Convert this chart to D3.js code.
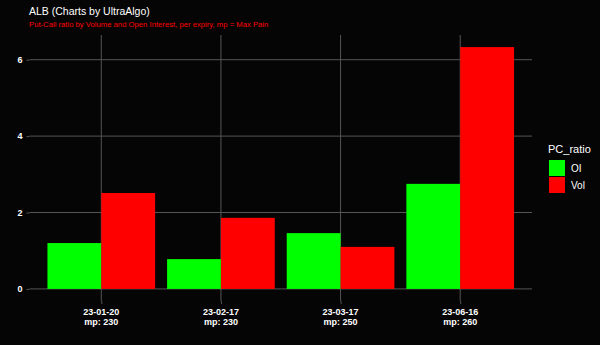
<!DOCTYPE html>
<html>
<head>
<meta charset="utf-8">
<script src="https://cdn.jsdelivr.net/npm/d3@7"></script>
<style>
  body { margin: 0; background: #000; }
  text { font-family: "Liberation Sans", Arial, sans-serif; }
</style>
</head>
<body>
<script>
// data
var expiries = ["23-01-20", "23-02-17", "23-03-17", "23-06-16"];
var maxPain = [230, 230, 250, 260];
var oiRatio = [1.2, 0.78, 1.46, 2.75];
var volRatio = [2.51, 1.86, 1.10, 6.33];
var seriesNames = ["OI", "Vol"];
var seriesColors = ["#00ff00", "#ff0000"];
var yTicks = [0, 2, 4, 6];

var W = 600, H = 345;
var pLeft = 29.5, pRight = 532, pTop = 35, pBottom = 301;

var svg = d3.select("body").append("svg").attr("width", W).attr("height", H);
svg.append("rect").attr("width", W).attr("height", H).attr("fill", "#050505");

var ymax = d3.max(volRatio.concat(oiRatio));
var y = d3.scaleLinear().domain([-ymax * 0.05, ymax * 1.05]).range([pBottom, pTop]);

// discrete axis with 0.6 unit expansion on each side
var unit = (pRight - pLeft) / (expiries.length - 1 + 1.2);
var x = d3.scalePoint().domain(expiries).range([pLeft + 0.6 * unit, pRight - 0.6 * unit]);
var inner = d3.scaleBand().domain(seriesNames).range([-unit * 0.45, unit * 0.45]);

var grid = svg.append("g");
yTicks.forEach(function (t) {
  grid.append("line").attr("x1", pLeft).attr("x2", pRight)
    .attr("y1", y(t)).attr("y2", y(t)).attr("stroke", "#555").attr("stroke-width", 1);
});
expiries.forEach(function (e) {
  grid.append("line").attr("x1", x(e)).attr("x2", x(e))
    .attr("y1", pTop).attr("y2", pBottom).attr("stroke", "#555").attr("stroke-width", 1);
});

var rows = expiries.map(function (e, i) {
  return { key: e, vals: [oiRatio[i], volRatio[i]] };
});

svg.append("g").selectAll("g")
  .data(rows)
  .enter()
  .append("g")
  .attr("transform", function (d) { return "translate(" + x(d.key) + ",0)"; })
  .selectAll("rect")
  .data(function (d) { return d.vals; })
  .enter()
  .append("rect")
  .attr("x", function (d, i) { return inner(seriesNames[i]); })
  .attr("width", inner.bandwidth())
  .attr("y", function (d) { return y(d); })
  .attr("height", function (d) { return y(0) - y(d); })
  .attr("fill", function (d, i) { return seriesColors[i]; });

// y axis
var yAxis = svg.append("g").attr("transform", "translate(" + pLeft + ",0)")
  .call(d3.axisLeft(y).tickValues(yTicks).tickFormat(d3.format("d")).tickSize(3).tickPadding(4));
yAxis.select(".domain").remove();
yAxis.selectAll("line").attr("stroke", "#555");
yAxis.selectAll("text").attr("fill", "#fff").style("font-size", "9px").style("font-weight", "bold");

// x axis
var xAxis = svg.append("g").attr("transform", "translate(0," + pBottom + ")")
  .call(d3.axisBottom(x).tickSize(3).tickFormat(""));
xAxis.select(".domain").remove();
xAxis.selectAll("line").attr("stroke", "#555");

expiries.forEach(function (e, i) {
  var t = svg.append("text").attr("text-anchor", "middle").attr("fill", "#fff")
    .style("font-size", "9px").style("font-weight", "bold");
  t.append("tspan").attr("x", x(e)).attr("y", 315).text(e);
  t.append("tspan").attr("x", x(e)).attr("y", 325).text("mp: " + maxPain[i]);
});

// titles
svg.append("text").attr("x", 29).attr("y", 15).attr("fill", "#fff")
  .style("font-size", "10.5px").text("ALB (Charts by UltraAlgo)");
svg.append("text").attr("x", 29).attr("y", 27).attr("fill", "#ff0000")
  .style("font-size", "7.7px").text("Put-Call ratio by Volume and Open Interest, per expiry, mp = Max Pain");

// legend
var lg = svg.append("g").attr("transform", "translate(548,0)");
lg.append("text").attr("x", 0).attr("y", 153).attr("fill", "#fff")
  .style("font-size", "11px").text("PC_ratio");
seriesNames.forEach(function (s, i) {
  lg.append("rect").attr("x", 1).attr("y", 160 + i * 17).attr("width", 16).attr("height", 16)
    .attr("fill", seriesColors[i]);
  lg.append("text").attr("x", 23).attr("y", 172 + i * 17).attr("fill", "#fff")
    .style("font-size", "10px").text(s);
});
</script>
</body>
</html>
